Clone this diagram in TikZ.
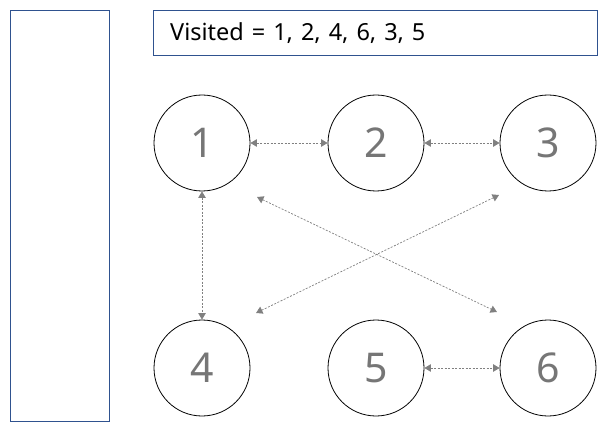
\documentclass[tikz,border=0pt]{standalone}
\usepackage{fontspec}
\setmainfont{Noto Sans}
\usetikzlibrary{arrows.meta}
\definecolor{panelblue}{RGB}{47,82,143}
\definecolor{digitgray}{RGB}{118,118,118}
\begin{document}
\begin{tikzpicture}[x=1pt,y=1pt,
  vnode/.style={draw=black, line width=0.8pt, circle, minimum size=96pt, inner sep=0pt,
    text=digitgray, font=\fontsize{41}{44}\selectfont},
  panel/.style={draw=panelblue, line width=1pt},
  link/.style={draw=gray, line width=0.7pt, dash pattern=on 2pt off 1.5pt,
    {Triangle[length=6.5pt,width=7.5pt]}-{Triangle[length=6.5pt,width=7.5pt]}, color=gray}]
\useasboundingbox (0,0) rectangle (613,429);
\fill[white] (0,0) rectangle (613,429);
\node[panel, minimum width=99pt, minimum height=410pt, inner sep=0pt] (stack) at (59.5,213) {};
\node[panel, minimum width=444pt, minimum height=45pt, inner sep=0pt] (vis) at (375,395.5) {};
\node[anchor=west, font=\fontsize{23.5}{26}\selectfont, inner sep=0pt] (vtext) at (170,396) {\spaceskip=8pt plus 1pt Visited = 1, 2, 4, 6, 3, 5};
\node[vnode] (n1) at (202,286) {1};
\node[vnode] (n2) at (376,286) {2};
\node[vnode] (n3) at (548,286) {3};
\node[vnode] (n4) at (202,61) {4};
\node[vnode] (n5) at (376,61) {5};
\node[vnode] (n6) at (548,61) {6};
\coordinate (d1a) at (257,232);
\coordinate (d1b) at (497,117);
\coordinate (d2a) at (499,234);
\coordinate (d2b) at (256,116);
\draw[link] (n1) -- (n2);
\draw[link] (n2) -- (n3);
\draw[link] (n1) -- (n4);
\draw[link] (n5) -- (n6);
\draw[link] (d1a) -- (d1b);
\draw[link] (d2a) -- (d2b);
\end{tikzpicture}
\end{document}
